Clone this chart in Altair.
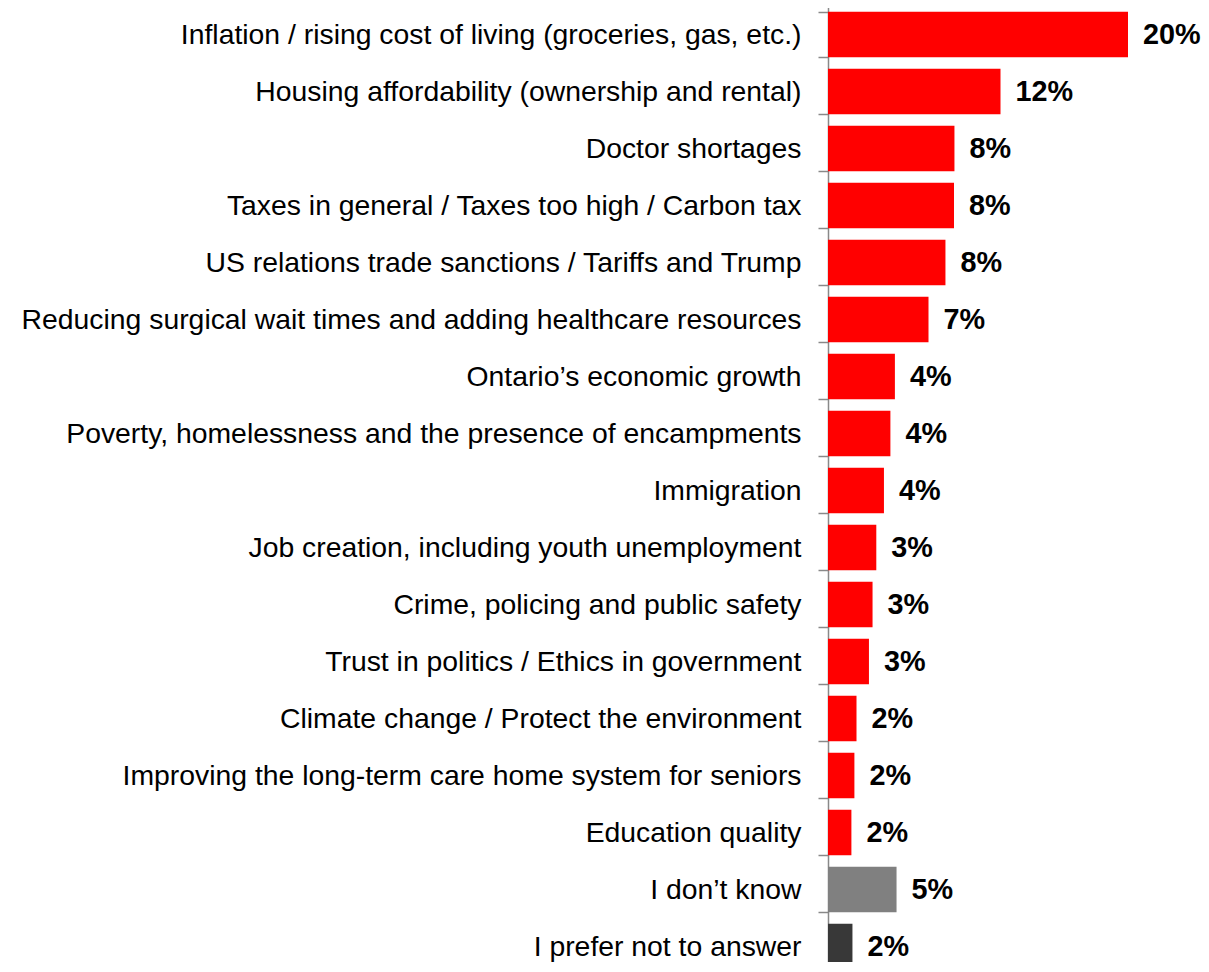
import altair as alt
import pandas as pd

categories = [
    "Inflation / rising cost of living (groceries, gas, etc.)",
    "Housing affordability (ownership and rental)",
    "Doctor shortages",
    "Taxes in general / Taxes too high / Carbon tax",
    "US relations trade sanctions / Tariffs and Trump",
    "Reducing surgical wait times and adding healthcare resources",
    "Ontario\u2019s economic growth",
    "Poverty, homelessness and the presence of encampments",
    "Immigration",
    "Job creation, including youth unemployment",
    "Crime, policing and public safety",
    "Trust in politics / Ethics in government",
    "Climate change / Protect the environment",
    "Improving the long-term care home system for seniors",
    "Education quality",
    "I don\u2019t know",
    "I prefer not to answer",
]
values = [20.0, 11.5, 8.43, 8.4, 7.83, 6.7, 4.46, 4.16, 3.73, 3.22, 2.97, 2.73, 1.9, 1.76, 1.56, 4.57, 1.63]
labels = ["20%", "12%", "8%", "8%", "8%", "7%", "4%", "4%", "4%", "3%", "3%", "3%", "2%", "2%", "2%", "5%", "2%"]
colors = ["#FF0000"] * 15 + ["#808080", "#383838"]

df = pd.DataFrame({"cat": categories, "value": values, "label": labels, "color": colors})

FONT = "Liberation Sans"

y = alt.Y(
    "cat:N",
    sort=categories,
    title=None,
    scale=alt.Scale(paddingInner=0.2, paddingOuter=0.1),
    axis=alt.Axis(
        labelFont=FONT,
        labelFontSize=28.35,
        labelColor="#000000",
        labelPadding=17,
        labelLimit=1000,
        tickBand="extent",
        tickSize=10,
        tickColor="#898989",
        tickWidth=1.5,
        domainColor="#898989",
        domainWidth=1.5,
        grid=False,
    ),
)
x = alt.X("value:Q", axis=None, scale=alt.Scale(domain=[0, 24.8], nice=False, zero=True))

bars = alt.Chart(df).mark_bar().encode(
    x=x, y=y, color=alt.Color("color:N", scale=None)
)
text = alt.Chart(df).mark_text(
    align="left", baseline="middle", dx=15, font=FONT, fontSize=28.8, fontWeight="bold", color="#000000"
).encode(x=x, y=y, text="label:N")

chart = (
    alt.layer(bars, text)
    .properties(
        width=372,
        height=969,
        background="white",
        autosize=alt.AutoSizeParams(type="none"),
        padding={"left": 820, "top": -2, "right": 1, "bottom": -13},
    )
    .configure_view(stroke="transparent", strokeWidth=0)
)

chart.save("out.html", embed_options={"renderer": "svg", "actions": False})
